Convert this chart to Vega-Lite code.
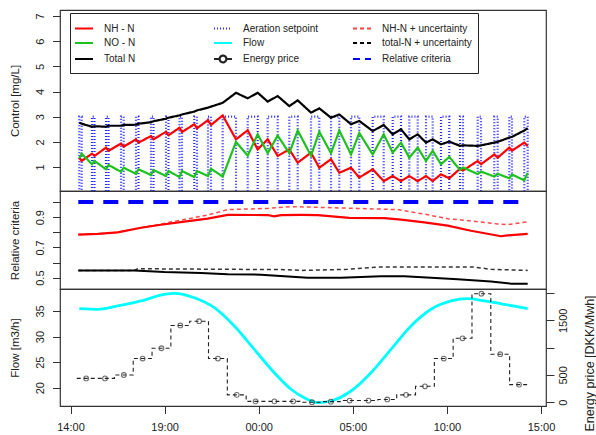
{
  "$schema": "https://vega.github.io/schema/vega-lite/v6.json",
  "background": "white",
  "padding": {"left": 8, "top": 9, "right": 0, "bottom": 0},
  "spacing": 0,
  "bounds": "flush",
  "config": {
    "font": "Liberation Sans",
    "view": {"stroke": "#333333", "strokeWidth": 1.2},
    "axis": {"grid": false, "domain": false, "tickColor": "#333333", "tickSize": 7.5, "labelFont": "Liberation Sans", "labelFontSize": 11, "labelColor": "#222222", "titleFont": "Liberation Sans", "titleFontSize": 11.5, "titleFontWeight": "normal", "titleColor": "#222222", "labelOverlap": false, "labelFlush": false},
    "legend": {"labelFont": "Liberation Sans", "labelFontSize": 10, "labelColor": "#222222", "symbolType": "stroke", "symbolSize": 182, "columns": 3, "gridAlign": "all", "columnPadding": 15, "rowPadding": 0, "padding": 6, "strokeColor": "#222222", "fillColor": "white", "labelOffset": 12, "title": null}
  },
  "datasets": {
    "top": [
      {"h": 14.468, "NH - N": 1.37, "NO - N": 1.35, "Total N": 2.76},
      {"h": 14.595, "NH - N": 1.24, "NO - N": 1.53, "Total N": 2.72},
      {"h": 15.142, "NH - N": 1.53, "NO - N": 1.11, "Total N": 2.60},
      {"h": 15.275, "NH - N": 1.44, "NO - N": 1.24, "Total N": 2.62},
      {"h": 15.886, "NH - N": 1.77, "NO - N": 0.91, "Total N": 2.60},
      {"h": 16.019, "NH - N": 1.64, "NO - N": 1.08, "Total N": 2.64},
      {"h": 16.683, "NH - N": 1.93, "NO - N": 0.81, "Total N": 2.64},
      {"h": 16.827, "NH - N": 1.81, "NO - N": 0.97, "Total N": 2.67},
      {"h": 17.480, "NH - N": 2.10, "NO - N": 0.73, "Total N": 2.68},
      {"h": 17.613, "NH - N": 1.97, "NO - N": 0.91, "Total N": 2.72},
      {"h": 18.277, "NH - N": 2.23, "NO - N": 0.68, "Total N": 2.78},
      {"h": 18.410, "NH - N": 2.10, "NO - N": 0.88, "Total N": 2.82},
      {"h": 19.074, "NH - N": 2.40, "NO - N": 0.64, "Total N": 2.92},
      {"h": 19.207, "NH - N": 2.26, "NO - N": 0.84, "Total N": 2.96},
      {"h": 19.792, "NH - N": 2.56, "NO - N": 0.60, "Total N": 3.05},
      {"h": 19.924, "NH - N": 2.39, "NO - N": 0.84, "Total N": 3.09},
      {"h": 20.578, "NH - N": 2.70, "NO - N": 0.60, "Total N": 3.20},
      {"h": 20.721, "NH - N": 2.54, "NO - N": 0.84, "Total N": 3.25},
      {"h": 21.306, "NH - N": 2.86, "NO - N": 0.64, "Total N": 3.36},
      {"h": 21.465, "NH - N": 2.67, "NO - N": 0.93, "Total N": 3.40},
      {"h": 22.087, "NH - N": 3.05, "NO - N": 0.62, "Total N": 3.55},
      {"h": 22.794, "NH - N": 2.10, "NO - N": 2.00, "Total N": 3.95},
      {"h": 23.415, "NH - N": 2.46, "NO - N": 1.45, "Total N": 3.73},
      {"h": 23.947, "NH - N": 1.70, "NO - N": 2.30, "Total N": 3.95},
      {"h": 24.478, "NH - N": 2.10, "NO - N": 1.55, "Total N": 3.60},
      {"h": 25.009, "NH - N": 1.44, "NO - N": 2.25, "Total N": 3.82},
      {"h": 25.626, "NH - N": 1.70, "NO - N": 1.55, "Total N": 3.42},
      {"h": 26.072, "NH - N": 1.17, "NO - N": 2.45, "Total N": 3.65},
      {"h": 26.779, "NH - N": 1.57, "NO - N": 1.45, "Total N": 3.16},
      {"h": 27.220, "NH - N": 0.97, "NO - N": 2.40, "Total N": 3.33},
      {"h": 27.842, "NH - N": 1.31, "NO - N": 1.55, "Total N": 2.96},
      {"h": 28.283, "NH - N": 0.77, "NO - N": 2.45, "Total N": 3.09},
      {"h": 28.904, "NH - N": 0.97, "NO - N": 1.50, "Total N": 2.70},
      {"h": 29.345, "NH - N": 0.58, "NO - N": 2.35, "Total N": 2.83},
      {"h": 30.057, "NH - N": 0.91, "NO - N": 1.50, "Total N": 2.43},
      {"h": 30.642, "NH - N": 0.44, "NO - N": 2.30, "Total N": 2.67},
      {"h": 31.120, "NH - N": 0.64, "NO - N": 1.57, "Total N": 2.30},
      {"h": 31.561, "NH - N": 0.44, "NO - N": 1.97, "Total N": 2.50},
      {"h": 32.002, "NH - N": 0.64, "NO - N": 1.37, "Total N": 2.10},
      {"h": 32.448, "NH - N": 0.44, "NO - N": 1.77, "Total N": 2.30},
      {"h": 32.889, "NH - N": 0.64, "NO - N": 1.24, "Total N": 1.97},
      {"h": 33.245, "NH - N": 0.44, "NO - N": 1.64, "Total N": 2.10},
      {"h": 33.686, "NH - N": 0.71, "NO - N": 1.11, "Total N": 1.90},
      {"h": 34.127, "NH - N": 0.55, "NO - N": 1.40, "Total N": 2.01},
      {"h": 34.696, "NH - N": 0.93, "NO - N": 0.88, "Total N": 1.84},
      {"h": 34.855, "NH - N": 0.86, "NO - N": 0.98, "Total N": 1.86},
      {"h": 35.636, "NH - N": 1.24, "NO - N": 0.72, "Total N": 1.84},
      {"h": 35.812, "NH - N": 1.11, "NO - N": 0.82, "Total N": 1.86},
      {"h": 36.519, "NH - N": 1.50, "NO - N": 0.62, "Total N": 1.97},
      {"h": 36.699, "NH - N": 1.37, "NO - N": 0.73, "Total N": 2.00},
      {"h": 37.316, "NH - N": 1.77, "NO - N": 0.55, "Total N": 2.17},
      {"h": 37.459, "NH - N": 1.65, "NO - N": 0.70, "Total N": 2.20},
      {"h": 38.113, "NH - N": 1.97, "NO - N": 0.47, "Total N": 2.45},
      {"h": 38.293, "NH - N": 1.83, "NO - N": 0.77, "Total N": 2.54}
    ],
    "setpoint": [
      {"h": 14.46, "v": 0},
      {"h": 14.468, "v": 3}, {"h": 14.595, "v": 0},
      {"h": 15.142, "v": 3}, {"h": 15.275, "v": 0},
      {"h": 15.886, "v": 3}, {"h": 16.019, "v": 0},
      {"h": 16.683, "v": 3}, {"h": 16.827, "v": 0},
      {"h": 17.480, "v": 3}, {"h": 17.613, "v": 0},
      {"h": 18.277, "v": 3}, {"h": 18.410, "v": 0},
      {"h": 19.074, "v": 3}, {"h": 19.207, "v": 0},
      {"h": 19.792, "v": 3}, {"h": 19.924, "v": 0},
      {"h": 20.578, "v": 3}, {"h": 20.721, "v": 0},
      {"h": 21.306, "v": 3}, {"h": 21.465, "v": 0},
      {"h": 22.087, "v": 3}, {"h": 22.794, "v": 0},
      {"h": 23.415, "v": 3}, {"h": 23.947, "v": 0},
      {"h": 24.478, "v": 3}, {"h": 25.009, "v": 0},
      {"h": 25.626, "v": 3}, {"h": 26.072, "v": 0},
      {"h": 26.779, "v": 3}, {"h": 27.220, "v": 0},
      {"h": 27.842, "v": 3}, {"h": 28.283, "v": 0},
      {"h": 28.904, "v": 3}, {"h": 29.345, "v": 0},
      {"h": 30.057, "v": 3}, {"h": 30.642, "v": 0},
      {"h": 31.120, "v": 3}, {"h": 31.561, "v": 0},
      {"h": 32.002, "v": 3}, {"h": 32.448, "v": 0},
      {"h": 32.889, "v": 3}, {"h": 33.245, "v": 0},
      {"h": 33.686, "v": 3}, {"h": 34.127, "v": 0},
      {"h": 34.696, "v": 3}, {"h": 34.855, "v": 0},
      {"h": 35.636, "v": 3}, {"h": 35.812, "v": 0},
      {"h": 36.519, "v": 3}, {"h": 36.699, "v": 0},
      {"h": 37.316, "v": 3}, {"h": 37.459, "v": 0},
      {"h": 38.113, "v": 3}, {"h": 38.293, "v": 0}
    ],
    "mid": [
      {"h": 14.414, "s": "NH-N + uncertainty", "v": 0.785},
      {"h": 15.445, "s": "NH-N + uncertainty", "v": 0.79},
      {"h": 16.508, "s": "NH-N + uncertainty", "v": 0.80},
      {"h": 17.746, "s": "NH-N + uncertainty", "v": 0.83},
      {"h": 18.809, "s": "NH-N + uncertainty", "v": 0.855},
      {"h": 20.047, "s": "NH-N + uncertainty", "v": 0.884},
      {"h": 21.290, "s": "NH-N + uncertainty", "v": 0.914},
      {"h": 22.353, "s": "NH-N + uncertainty", "v": 0.95},
      {"h": 24.478, "s": "NH-N + uncertainty", "v": 0.958},
      {"h": 25.716, "s": "NH-N + uncertainty", "v": 0.97},
      {"h": 27.470, "s": "NH-N + uncertainty", "v": 0.964},
      {"h": 29.260, "s": "NH-N + uncertainty", "v": 0.958},
      {"h": 31.386, "s": "NH-N + uncertainty", "v": 0.95},
      {"h": 32.799, "s": "NH-N + uncertainty", "v": 0.92},
      {"h": 34.042, "s": "NH-N + uncertainty", "v": 0.89},
      {"h": 35.280, "s": "NH-N + uncertainty", "v": 0.875},
      {"h": 36.698, "s": "NH-N + uncertainty", "v": 0.855},
      {"h": 37.230, "s": "NH-N + uncertainty", "v": 0.85},
      {"h": 38.293, "s": "NH-N + uncertainty", "v": 0.87},
      {"h": 14.414, "s": "total-N + uncertainty", "v": 0.548},
      {"h": 17.390, "s": "total-N + uncertainty", "v": 0.548},
      {"h": 17.570, "s": "total-N + uncertainty", "v": 0.559},
      {"h": 25.360, "s": "total-N + uncertainty", "v": 0.553},
      {"h": 26.248, "s": "total-N + uncertainty", "v": 0.548},
      {"h": 28.730, "s": "total-N + uncertainty", "v": 0.555},
      {"h": 30.323, "s": "total-N + uncertainty", "v": 0.57},
      {"h": 32.799, "s": "total-N + uncertainty", "v": 0.57},
      {"h": 35.456, "s": "total-N + uncertainty", "v": 0.57},
      {"h": 36.343, "s": "total-N + uncertainty", "v": 0.555},
      {"h": 38.293, "s": "total-N + uncertainty", "v": 0.548},
      {"h": 14.414, "s": "NH - N", "v": 0.785},
      {"h": 15.445, "s": "NH - N", "v": 0.79},
      {"h": 16.508, "s": "NH - N", "v": 0.80},
      {"h": 17.746, "s": "NH - N", "v": 0.83},
      {"h": 18.809, "s": "NH - N", "v": 0.85},
      {"h": 20.047, "s": "NH - N", "v": 0.87},
      {"h": 21.290, "s": "NH - N", "v": 0.89},
      {"h": 22.353, "s": "NH - N", "v": 0.915},
      {"h": 24.478, "s": "NH - N", "v": 0.914},
      {"h": 24.813, "s": "NH - N", "v": 0.905},
      {"h": 25.185, "s": "NH - N", "v": 0.914},
      {"h": 26.248, "s": "NH - N", "v": 0.915},
      {"h": 27.135, "s": "NH - N", "v": 0.914},
      {"h": 28.814, "s": "NH - N", "v": 0.895},
      {"h": 30.674, "s": "NH - N", "v": 0.893},
      {"h": 31.561, "s": "NH - N", "v": 0.884},
      {"h": 32.799, "s": "NH - N", "v": 0.866},
      {"h": 34.042, "s": "NH - N", "v": 0.844},
      {"h": 35.280, "s": "NH - N", "v": 0.81},
      {"h": 36.875, "s": "NH - N", "v": 0.774},
      {"h": 37.230, "s": "NH - N", "v": 0.78},
      {"h": 38.293, "s": "NH - N", "v": 0.79},
      {"h": 14.414, "s": "Total N", "v": 0.548},
      {"h": 17.390, "s": "Total N", "v": 0.548},
      {"h": 18.984, "s": "Total N", "v": 0.537},
      {"h": 20.934, "s": "Total N", "v": 0.53},
      {"h": 22.353, "s": "Total N", "v": 0.523},
      {"h": 24.122, "s": "Total N", "v": 0.52},
      {"h": 25.360, "s": "Total N", "v": 0.51},
      {"h": 26.604, "s": "Total N", "v": 0.50},
      {"h": 28.373, "s": "Total N", "v": 0.50},
      {"h": 30.498, "s": "Total N", "v": 0.51},
      {"h": 31.737, "s": "Total N", "v": 0.51},
      {"h": 34.573, "s": "Total N", "v": 0.49},
      {"h": 36.343, "s": "Total N", "v": 0.475},
      {"h": 37.406, "s": "Total N", "v": 0.46},
      {"h": 38.293, "s": "Total N", "v": 0.46},
      {"h": 14.414, "s": "Relative criteria", "v": 1.0},
      {"h": 38.293, "s": "Relative criteria", "v": 1.0}
    ],
    "flow": [
      {"h": 14.468, "flow": 35.45},
      {"h": 15.445, "flow": 35.33},
      {"h": 16.508, "flow": 35.98},
      {"h": 17.746, "flow": 36.96},
      {"h": 18.984, "flow": 38.27},
      {"h": 19.515, "flow": 38.46},
      {"h": 20.578, "flow": 37.6},
      {"h": 21.641, "flow": 35.65},
      {"h": 22.704, "flow": 32.07},
      {"h": 23.766, "flow": 27.5},
      {"h": 24.829, "flow": 22.93},
      {"h": 25.716, "flow": 19.7},
      {"h": 26.423, "flow": 18.04},
      {"h": 27.135, "flow": 17.07},
      {"h": 27.842, "flow": 17.4},
      {"h": 28.904, "flow": 19.35},
      {"h": 29.967, "flow": 22.93},
      {"h": 31.029, "flow": 27.5},
      {"h": 32.092, "flow": 32.07},
      {"h": 33.155, "flow": 35.33},
      {"h": 34.218, "flow": 36.96},
      {"h": 35.105, "flow": 37.4},
      {"h": 35.988, "flow": 36.96},
      {"h": 37.050, "flow": 36.3},
      {"h": 38.293, "flow": 35.45}
    ],
    "price": [
      {"h": 14.333, "price": 436},
      {"h": 14.833, "price": 436},
      {"h": 15.833, "price": 436},
      {"h": 16.833, "price": 498},
      {"h": 17.833, "price": 800},
      {"h": 18.833, "price": 989},
      {"h": 19.833, "price": 1407},
      {"h": 20.833, "price": 1485},
      {"h": 21.833, "price": 800},
      {"h": 22.833, "price": 134},
      {"h": 23.833, "price": 15},
      {"h": 24.833, "price": 15},
      {"h": 25.833, "price": 15},
      {"h": 26.833, "price": 0},
      {"h": 27.833, "price": 10},
      {"h": 28.833, "price": 30},
      {"h": 29.833, "price": 30},
      {"h": 30.833, "price": 50},
      {"h": 31.833, "price": 134},
      {"h": 32.833, "price": 291},
      {"h": 33.833, "price": 800},
      {"h": 34.833, "price": 1171},
      {"h": 35.833, "price": 1989},
      {"h": 36.833, "price": 880},
      {"h": 37.833, "price": 322},
      {"h": 38.333, "price": 322}
    ]
  },
  "resolve": {"scale": {"color": "independent", "strokeDash": "independent", "strokeWidth": "independent", "shape": "independent"}},
  "vconcat": [
    {
      "width": 486,
      "height": 181,
      "encoding": {
        "x": {"field": "h", "type": "quantitative", "scale": {"domain": [13.442, 39.266], "nice": false, "zero": false}, "axis": null},
        "y": {"field": "v", "type": "quantitative", "scale": {"domain": [0.046, 7.24], "nice": false, "zero": false},
              "axis": {"title": "Control [mg/L]", "values": [1, 2, 3, 4, 5, 6, 7], "labelOverlap": false, "labelAngle": 270, "labelAlign": "center", "labelBaseline": "middle", "labelPadding": 12, "titleAngle": 270, "titleAlign": "center", "titleBaseline": "middle", "titleX": -45}}
      },
      "layer": [
        {
          "data": {"name": "setpoint"},
          "mark": {"type": "line", "interpolate": "step-after", "clip": true},
          "encoding": {
            "color": {"datum": "Aeration setpoint", "type": "nominal",
                      "scale": {"domain": ["NH - N", "NO - N", "Total N", "Aeration setpoint", "Flow", "Energy price", "NH-N + uncertainty", "total-N + uncertainty", "Relative criteria"],
                                "range": ["#ff0000", "#1ec21e", "#000000", "#2a2aff", "#00ffff", "#222222", "#ff4040", "#000000", "#0000ff"]},
                      "legend": {"orient": "none", "legendX": 10, "legendY": 3}},
            "strokeDash": {"datum": "Aeration setpoint", "type": "nominal",
                      "scale": {"domain": ["NH - N", "NO - N", "Total N", "Aeration setpoint", "Flow", "Energy price", "NH-N + uncertainty", "total-N + uncertainty", "Relative criteria"],
                                "range": [[1, 0], [1, 0], [1, 0], [1, 2], [1, 0], [1, 0], [4, 3], [4, 3], [7, 5]]},
                      "legend": {"orient": "none", "legendX": 10, "legendY": 3}},
            "strokeWidth": {"datum": "Aeration setpoint", "type": "nominal",
                      "scale": {"domain": ["NH - N", "NO - N", "Total N", "Aeration setpoint", "Flow", "Energy price", "NH-N + uncertainty", "total-N + uncertainty", "Relative criteria"],
                                "range": [2.2, 2.2, 2.2, 1, 1.5, 1.1, 1.5, 1.2, 3.5]},
                      "legend": {"orient": "none", "legendX": 10, "legendY": 3}}
          }
        },
        {
          "data": {"name": "top"},
          "transform": [{"fold": ["NH - N", "NO - N", "Total N"], "as": ["s", "v"]}],
          "mark": {"type": "line", "clip": true},
          "encoding": {
            "color": {"field": "s", "type": "nominal", "legend": {"orient": "none", "legendX": 10, "legendY": 3}},
            "strokeDash": {"field": "s", "type": "nominal", "legend": {"orient": "none", "legendX": 10, "legendY": 3}},
            "strokeWidth": {"field": "s", "type": "nominal", "legend": {"orient": "none", "legendX": 10, "legendY": 3}}
          }
        },
        {
          "data": {"values": []},
          "mark": {"type": "point", "filled": false},
          "encoding": {
            "shape": {"field": "s", "type": "nominal",
                      "scale": {"domain": ["NH - N", "NO - N", "Total N", "Aeration setpoint", "Flow", "Energy price", "NH-N + uncertainty", "total-N + uncertainty", "Relative criteria"],
                                "range": ["M-1.33,0H1.33", "M-1.33,0H1.33", "M-1.33,0H1.33", "M-1.33,0H1.33", "M-1.33,0H1.33", "M-1.33,0H-0.5M0.5,0H1.33M0.5,0A0.5,0.5,0,1,1,-0.5,0A0.5,0.5,0,1,1,0.5,0", "M-1.33,0H1.33", "M-1.33,0H1.33", "M-1.33,0H1.33"]},
                      "legend": {"orient": "none", "legendX": 10, "legendY": 3}}
          }
        }
      ]
    },
    {
      "width": 486,
      "height": 98,
      "data": {"name": "mid"},
      "encoding": {
        "x": {"field": "h", "type": "quantitative", "scale": {"domain": [13.442, 39.266], "nice": false, "zero": false}, "axis": null},
        "y": {"field": "v", "type": "quantitative", "scale": {"domain": [0.425, 1.073], "nice": false, "zero": false},
              "axis": {"title": "Relative criteria", "values": [0.5, 0.6, 0.7, 0.8, 0.9, 1.0], "labelOverlap": false, "labelExpr": "datum.label == '0.5' || datum.label == '0.7' || datum.label == '0.9' ? datum.label : ''", "labelAngle": 270, "labelAlign": "center", "labelBaseline": "middle", "labelPadding": 12, "titleAngle": 270, "titleAlign": "center", "titleBaseline": "middle", "titleX": -45}}
      },
      "layer": [
        {"transform": [{"filter": {"field": "s", "equal": "NH-N + uncertainty"}}], "mark": {"type": "line", "color": "#ff4a4a", "strokeDash": [4, 3], "strokeWidth": 1.5}},
        {"transform": [{"filter": {"field": "s", "equal": "total-N + uncertainty"}}], "mark": {"type": "line", "color": "#333333", "strokeDash": [4, 3], "strokeWidth": 1.5}},
        {"transform": [{"filter": {"field": "s", "equal": "NH - N"}}], "mark": {"type": "line", "color": "#ff0000", "strokeWidth": 2.2}},
        {"transform": [{"filter": {"field": "s", "equal": "Total N"}}], "mark": {"type": "line", "color": "#000000", "strokeWidth": 2}},
        {"transform": [{"filter": {"field": "s", "equal": "Relative criteria"}}], "mark": {"type": "line", "color": "#0000ff", "strokeDash": [15, 10], "strokeWidth": 4}}
      ]
    },
    {
      "width": 486,
      "height": 117,
      "layer": [
        {
          "data": {"name": "flow"},
          "mark": {"type": "line", "interpolate": "monotone", "color": "#00ffff", "strokeWidth": 2.8},
          "encoding": {
            "x": {"field": "h", "type": "quantitative", "scale": {"domain": [13.442, 39.266], "nice": false, "zero": false},
                  "axis": {"title": null, "values": [14, 19, 24, 29, 34, 39], "labelExpr": "(datum.value % 24 < 10 ? '0' : '') + (datum.value % 24) + ':00'", "labelPadding": 8, "labelAngle": 0, "labelAlign": "center", "labelBaseline": "top"}},
            "y": {"field": "flow", "type": "quantitative", "scale": {"domain": [16.42, 39.3], "nice": false, "zero": false},
                  "axis": {"title": "Flow [m3/h]", "values": [20, 25, 30, 35], "labelOverlap": false, "labelAngle": 270, "labelAlign": "center", "labelBaseline": "middle", "labelPadding": 12, "titleAngle": 270, "titleAlign": "center", "titleBaseline": "middle", "titleX": -45}}
          }
        },
        {
          "data": {"name": "price"},
          "encoding": {
            "x": {"field": "h", "type": "quantitative"},
            "y": {"field": "price", "type": "quantitative", "scale": {"domain": [-70, 2075], "nice": false, "zero": false},
                  "axis": {"orient": "right", "title": "Energy price [DKK/Mwh]", "values": [0, 500, 1000, 1500, 2000], "format": "d", "labelOverlap": false, "labelExpr": "datum.value == 1000 || datum.value == 2000 ? '' : datum.label", "tickSize": 8, "labelAngle": 270, "labelAlign": "center", "labelBaseline": "middle", "labelPadding": 9.5, "titleAngle": 270, "titleAlign": "center", "titleBaseline": "middle", "titleFontSize": 12.5, "titleX": 43.5, "titleY": 74}}
          },
          "layer": [
            {"mark": {"type": "line", "interpolate": "step", "color": "#222222", "strokeDash": [4, 3], "strokeWidth": 1.1}},
            {"transform": [{"filter": "datum.h > 14.5 && datum.h < 38.2"}], "mark": {"type": "point", "shape": "circle", "filled": false, "color": "#333333", "size": 22, "strokeWidth": 1.1}}
          ]
        }
      ],
      "resolve": {"scale": {"y": "independent"}}
    }
  ]
}
